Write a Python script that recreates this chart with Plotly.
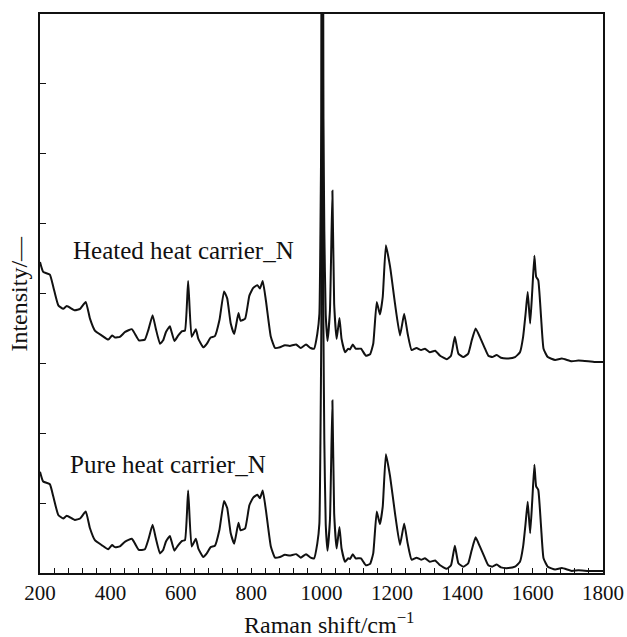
import plotly.graph_objects as go

# Raman shift (cm^-1)
raman_shift = [200, 209, 228, 238, 252, 266, 276, 299, 314, 330, 342, 356, 375, 394, 405, 413, 427, 442,
               461, 470, 481, 498, 508, 520, 529, 541, 550, 558, 569, 574, 582, 593, 604, 612, 621, 631,
               643, 650, 664, 674, 685, 697, 710, 723, 732, 742, 752, 764, 770, 783, 795, 806, 818, 825,
               833, 842, 856, 868, 882, 896, 910, 928, 941, 956, 969, 979, 988, 994, 997, 999.5, 1002,
               1005.5, 1008, 1012, 1017, 1024, 1031, 1036, 1043, 1051, 1057, 1067, 1076, 1081, 1089,
               1097, 1112, 1126, 1138, 1147, 1157, 1166, 1174, 1183, 1195, 1209, 1223, 1235, 1245,
               1256, 1270, 1283, 1294, 1308, 1323, 1337, 1356, 1368, 1379, 1389, 1403, 1417, 1427,
               1438, 1450, 1463, 1474, 1485, 1498, 1510, 1531, 1550, 1564, 1573, 1580, 1586, 1593,
               1599, 1605, 1610, 1616, 1624, 1631, 1643, 1664, 1683, 1711, 1730, 1758, 1775, 1800]

# Relative intensities, pure heat carrier
pure_intensity = [1.45, 1.31, 1.27, 1.09, 0.83, 0.78, 0.82, 0.76, 0.78, 0.88, 0.64, 0.47, 0.40, 0.34, 0.40,
                  0.37, 0.38, 0.45, 0.49, 0.42, 0.33, 0.34, 0.48, 0.69, 0.50, 0.28, 0.33, 0.45, 0.53, 0.45,
                  0.32, 0.40, 0.46, 0.47, 1.18, 0.38, 0.49, 0.35, 0.23, 0.28, 0.37, 0.39, 0.62, 1.03, 0.93,
                  0.57, 0.42, 0.72, 0.61, 0.64, 0.97, 1.08, 1.12, 1.07, 1.18, 0.90, 0.38, 0.22, 0.23, 0.26,
                  0.25, 0.27, 0.22, 0.27, 0.22, 0.21, 0.42, 0.71, 1.9, 3.5, 14.0,
                  3.5, 1.9, 0.7, 0.32, 0.76, 2.47, 0.85, 0.35, 0.66, 0.35, 0.16, 0.21, 0.20, 0.27,
                  0.21, 0.21, 0.11, 0.13, 0.28, 0.88, 0.70, 0.95, 1.70, 1.38, 0.85, 0.40, 0.71, 0.42,
                  0.19, 0.22, 0.19, 0.21, 0.16, 0.18, 0.11, 0.06, 0.11, 0.39, 0.14, 0.09, 0.14, 0.33,
                  0.51, 0.38, 0.23, 0.11, 0.09, 0.12, 0.08, 0.07, 0.09, 0.16, 0.38, 0.71, 1.02, 0.57,
                  1.04, 1.55, 1.24, 1.19, 0.66, 0.21, 0.09, 0.05, 0.07, 0.03, 0.04, 0.03, 0.03, 0.03]

# Relative intensities, heated heat carrier
heated_intensity = [1.45, 1.31, 1.27, 1.09, 0.83, 0.78, 0.82, 0.76, 0.78, 0.88, 0.64, 0.47, 0.40, 0.34, 0.40,
                    0.37, 0.38, 0.45, 0.49, 0.42, 0.33, 0.34, 0.48, 0.69, 0.50, 0.28, 0.33, 0.45, 0.53, 0.45,
                    0.32, 0.40, 0.46, 0.47, 1.18, 0.38, 0.49, 0.35, 0.23, 0.28, 0.37, 0.39, 0.62, 1.03, 0.93,
                    0.57, 0.42, 0.72, 0.61, 0.64, 0.97, 1.08, 1.12, 1.07, 1.18, 0.90, 0.38, 0.22, 0.23, 0.26,
                    0.25, 0.27, 0.22, 0.27, 0.22, 0.21, 0.42, 0.71, 1.9, 3.5, 14.0,
                    3.5, 1.9, 0.7, 0.32, 0.76, 2.47, 0.85, 0.35, 0.65, 0.35, 0.16, 0.21, 0.20, 0.27,
                    0.21, 0.21, 0.11, 0.13, 0.28, 0.88, 0.70, 0.95, 1.69, 1.38, 0.85, 0.40, 0.71, 0.42,
                    0.19, 0.22, 0.19, 0.21, 0.16, 0.18, 0.11, 0.06, 0.11, 0.38, 0.14, 0.09, 0.14, 0.33,
                    0.50, 0.38, 0.23, 0.11, 0.09, 0.12, 0.08, 0.07, 0.09, 0.16, 0.38, 0.71, 1.02, 0.57,
                    1.04, 1.54, 1.24, 1.19, 0.66, 0.21, 0.09, 0.05, 0.07, 0.03, 0.04, 0.03, 0.02, 0.02]

heated_offset = 3.0
labels = ["Pure heat carrier_N", "Heated heat carrier_N"]
x_title = "Raman shift/cm<sup>−1</sup>"
y_title = "Intensity/—"

FONT = "Liberation Serif, Times New Roman, serif"
INK = "#111111"

fig = go.Figure()
fig.add_trace(go.Scatter(x=raman_shift, y=pure_intensity, mode="lines",
                         line=dict(color=INK, width=2, shape="spline", smoothing=0.4), showlegend=False))
fig.add_trace(go.Scatter(x=raman_shift, y=[v + heated_offset for v in heated_intensity], mode="lines",
                         line=dict(color=INK, width=2, shape="spline", smoothing=0.4), showlegend=False))

fig.add_annotation(x=280, y=1.55, text=labels[0], showarrow=False, xanchor="left", yanchor="middle",
                   font=dict(family=FONT, size=25, color=INK))
fig.add_annotation(x=288, y=4.61, text=labels[1], showarrow=False, xanchor="left", yanchor="middle",
                   font=dict(family=FONT, size=25, color=INK))

# axis titles
fig.add_annotation(x=0.514, y=-0.089, xref="paper", yref="paper", text=x_title, showarrow=False,
                   xanchor="center", yanchor="middle", font=dict(family=FONT, size=24, color=INK))
fig.add_annotation(x=-0.039, y=0.5, xref="paper", yref="paper", text=y_title, showarrow=False,
                   textangle=-90, xanchor="center", yanchor="middle", font=dict(family=FONT, size=24, color=INK))

fig.update_layout(
    width=627, height=637,
    margin=dict(l=40, r=24, t=14, b=64),
    paper_bgcolor="white", plot_bgcolor="white",
    font=dict(family=FONT, color=INK),
)
fig.update_xaxes(
    range=[200, 1800], tickmode="linear", tick0=200, dtick=200,
    ticks="inside", ticklen=5, tickwidth=1, tickcolor=INK,
    minor=dict(ticks="inside", dtick=40, ticklen=5, tickwidth=1, tickcolor=INK),
    showgrid=False, zeroline=False, automargin=False,
    showline=True, linecolor=INK, linewidth=1.5, mirror=True,
    tickfont=dict(family=FONT, size=21, color=INK),
)
fig.update_yaxes(
    range=[0, 8], tickmode="linear", tick0=0, dtick=1,
    ticks="inside", ticklen=6, tickwidth=1, tickcolor=INK,
    showticklabels=False, automargin=False,
    showgrid=False, zeroline=False,
    showline=True, linecolor=INK, linewidth=1.5, mirror=True,
)

fig.write_html("out.html", config={"displayModeBar": False},
               post_script="document.body.style.margin='0';document.body.style.overflow='hidden';")
